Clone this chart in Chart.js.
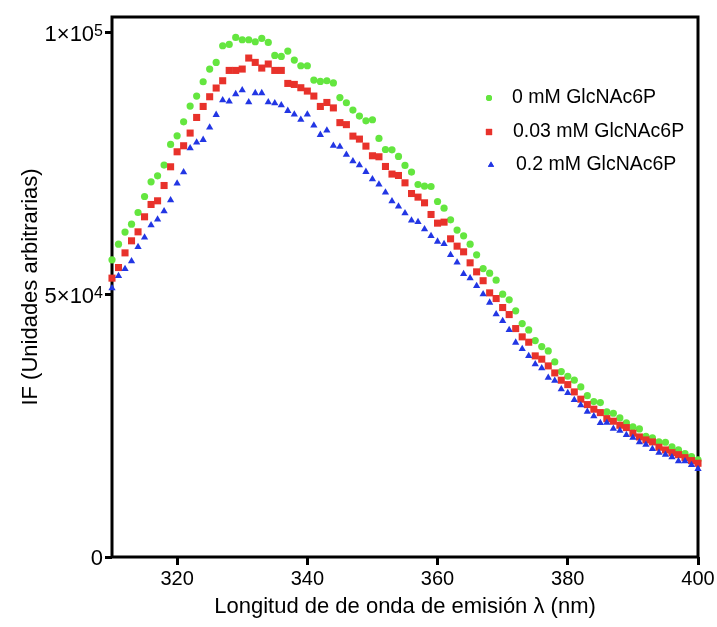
<!DOCTYPE html>
<html>
<head>
<meta charset="utf-8">
<script src="https://cdn.jsdelivr.net/npm/chart.js@4/dist/chart.umd.min.js"></script>
<style>
  html, body { margin: 0; padding: 0; background: #fff; }
</style>
</head>
<body>
<canvas id="chart" width="717" height="627"></canvas>
<script>
// wavelength (nm)
const wavelengths = [
  310, 311, 312, 313, 314, 315, 316, 317, 318, 319,
  320, 321, 322, 323, 324, 325, 326, 327, 328, 329,
  330, 331, 332, 333, 334, 335, 336, 337, 338, 339,
  340, 341, 342, 343, 344, 345, 346, 347, 348, 349,
  350, 351, 352, 353, 354, 355, 356, 357, 358, 359,
  360, 361, 362, 363, 364, 365, 366, 367, 368, 369,
  370, 371, 372, 373, 374, 375, 376, 377, 378, 379,
  380, 381, 382, 383, 384, 385, 386, 387, 388, 389,
  390, 391, 392, 393, 394, 395, 396, 397, 398, 399,
  400,
];

const seriesLabels = ["0 mM GlcNAc6P", "0.03 mM GlcNAc6P", "0.2 mM GlcNAc6P"];

const if0mM = [
  56680, 59670, 61970, 63490, 65710, 68760, 71560, 72710, 74750, 78690,
  80340, 83010, 86010, 87920, 90650, 93070, 94340, 97520, 97770, 99100,
  98660, 98660, 98280, 98910, 98150, 95670, 95480, 96510, 94790, 93700,
  93700, 90970, 90710, 90840, 90430, 87630, 86640, 85240, 84100, 83200,
  83400, 79830, 77730, 77670, 76400, 74680, 73420, 71050, 70740, 70670,
  67810, 66540, 64310, 62350, 61260, 59670, 57630, 55020, 54140, 52800,
  50130, 49050, 46950, 44530, 43320, 41280, 40140, 39310, 37210, 35370,
  34480, 33720, 32440, 30780, 29640, 29450, 27670, 27420, 26530, 25570,
  24810, 24430, 23030, 22710, 21950, 21890, 20990, 20420, 19710, 19140,
  18510,
];

const if003mM = [
  53190, 55210, 58010, 60310, 62020, 64890, 67240, 67940, 70860, 74430,
  77290, 78440, 80860, 83840, 85940, 87790, 89450, 90840, 92810, 92810,
  93070, 95170, 94340, 93260, 94030, 92810, 92810, 90330, 90140, 89510,
  88870, 87920, 85940, 86700, 85660, 82850, 82470, 80280, 79710, 78370,
  76530, 76340, 74490, 73040, 72770, 71370, 69330, 68640, 67560, 65330,
  63680, 63870, 60690, 59290, 58210, 56110, 54390, 52700, 50380, 49300,
  47580, 46240, 43570, 41990, 40970, 38360, 37730, 36450, 35110, 33720,
  32880, 31490, 30100, 29070, 28190, 27540, 26390, 25900, 25130, 24680,
  23610, 22900, 22330, 21950, 20930, 20420, 19900, 19520, 18950, 18380,
  17880,
];

const if02mM = [
  51280, 53630, 54960, 56430, 59160, 60940, 63300, 64380, 65970, 68070,
  71240, 73420, 77990, 79070, 79580, 81930, 84350, 87150, 86890, 88300,
  89060, 86770, 88490, 88490, 86770, 86580, 86200, 85110, 84410, 83400,
  84410, 82310, 80530, 81350, 78470, 78270, 76750, 75510, 74750, 73470,
  72080, 71050, 69530, 67880, 66850, 65590, 64180, 63930, 62540, 61260,
  60170, 59730, 57630, 56170, 54010, 53190, 51700, 50130, 48530, 46320,
  45040, 43320, 40900, 39690, 38360, 36770, 36010, 34220, 33650, 32000,
  31300, 29960, 28950, 27730, 26850, 25570, 25630, 24480, 24100, 23280,
  22770, 21890, 21430, 20610, 19900, 19520, 19030, 18260, 18260, 17560,
  16790,
];

const xTicks = [320, 340, 360, 380, 400];
const yTicks = [0, 50000, 100000];
// y tick labels: mantissa part and power of ten exponent
const yTickBase = ["0", "5×10", "1×10"];
const yTickExp = ["", "4", "5"];

const FONT = "'Liberation Sans', Arial, Helvetica, sans-serif";
const colors = ["#64e63f", "#e8322b", "#2236e4"];
const styles = ["circle", "rect", "triangle"];
const radii = [3.6, 5, 4.2];

function points(values) {
  return wavelengths.map((w, i) => ({ x: w, y: values[i] }));
}

const allSeries = [if0mM, if003mM, if02mM];

const datasets = allSeries.map((vals, i) => ({
  label: seriesLabels[i],
  data: points(vals),
  pointStyle: styles[i],
  pointRadius: radii[i],
  pointBackgroundColor: colors[i],
  pointBorderColor: colors[i],
  pointBorderWidth: 0,
  showLine: false,
  clip: false,
  order: 2 - i,
}));

// frame around plot area, y labels with exponents, legend inside plot
const framePlugin = {
  id: "frame",
  beforeDatasetsDraw(chart) {
    const { ctx, chartArea: a } = chart;
    ctx.save();
    ctx.strokeStyle = "#000";
    ctx.lineWidth = 3;
    ctx.strokeRect(a.left, a.top, a.right - a.left, a.bottom - a.top);

    // y tick labels
    const ys = chart.scales.y;
    const xr = a.left - 9;
    ctx.fillStyle = "#000";
    ctx.textBaseline = "alphabetic";
    ctx.textAlign = "right";
    yTicks.forEach((v, i) => {
      const py = ys.getPixelForValue(v);
      ctx.font = "16px " + FONT;
      const ew = yTickExp[i] ? ctx.measureText(yTickExp[i]).width : 0;
      if (yTickExp[i]) ctx.fillText(yTickExp[i], xr, py + 3);
      ctx.font = "22px " + FONT;
      ctx.fillText(yTickBase[i], xr - ew, py + 8);
    });
    ctx.restore();
  },
  afterDraw(chart) {
    const { ctx } = chart;
    ctx.save();
    ctx.font = "19.5px " + FONT;
    ctx.textBaseline = "middle";
    const rows = [
      { mx: 489, tx: 512, y: 98 },
      { mx: 489, tx: 513, y: 132 },
      { mx: 491, tx: 516, y: 165 },
    ];
    rows.forEach((r, i) => {
      ctx.fillStyle = colors[i];
      Chart.helpers.drawPoint(ctx, {
        pointStyle: styles[i],
        radius: radii[i] - 0.6,
        borderWidth: 0,
      }, r.mx, r.y);
      ctx.fill();
      ctx.fillStyle = "#000";
      ctx.fillText(seriesLabels[i], r.tx, r.y);
    });
    ctx.restore();
  },
};

new Chart(document.getElementById("chart"), {
  type: "scatter",
  data: { datasets },
  plugins: [framePlugin],
  options: {
    responsive: false,
    animation: false,
    layout: { padding: { left: 0, top: 17, right: 19, bottom: 0 } },
    plugins: {
      legend: { display: false },
      tooltip: { enabled: false },
    },
    scales: {
      x: {
        type: "linear",
        min: 310,
        max: 400,
        afterBuildTicks: (s) => { s.ticks = xTicks.map((v) => ({ value: v })); },
        afterFit: (s) => { s.height = 70; },
        border: { display: false },
        grid: {
          display: true,
          drawOnChartArea: false,
          drawTicks: true,
          tickLength: 8,
          tickWidth: 3,
          tickColor: "#000",
        },
        ticks: { color: "#000", font: { family: FONT, size: 20 }, padding: 2 },
        title: {
          display: true,
          text: "Longitud de de onda de emisión λ (nm)",
          color: "#000",
          font: { family: FONT, size: 22 },
          padding: { top: 0, bottom: 7 },
        },
      },
      y: {
        min: 0,
        max: 103000,
        afterBuildTicks: (s) => { s.ticks = yTicks.map((v) => ({ value: v })); },
        afterFit: (s) => { s.width = 112; },
        border: { display: false },
        grid: {
          display: true,
          drawOnChartArea: false,
          drawTicks: true,
          tickLength: 7,
          tickWidth: 3,
          tickColor: "#000",
        },
        ticks: { display: false },
        title: {
          display: true,
          text: "IF (Unidades arbitrarias)",
          color: "#000",
          font: { family: FONT, size: 22 },
          padding: { top: 18, bottom: 0 },
        },
      },
    },
  },
});
</script>
</body>
</html>
